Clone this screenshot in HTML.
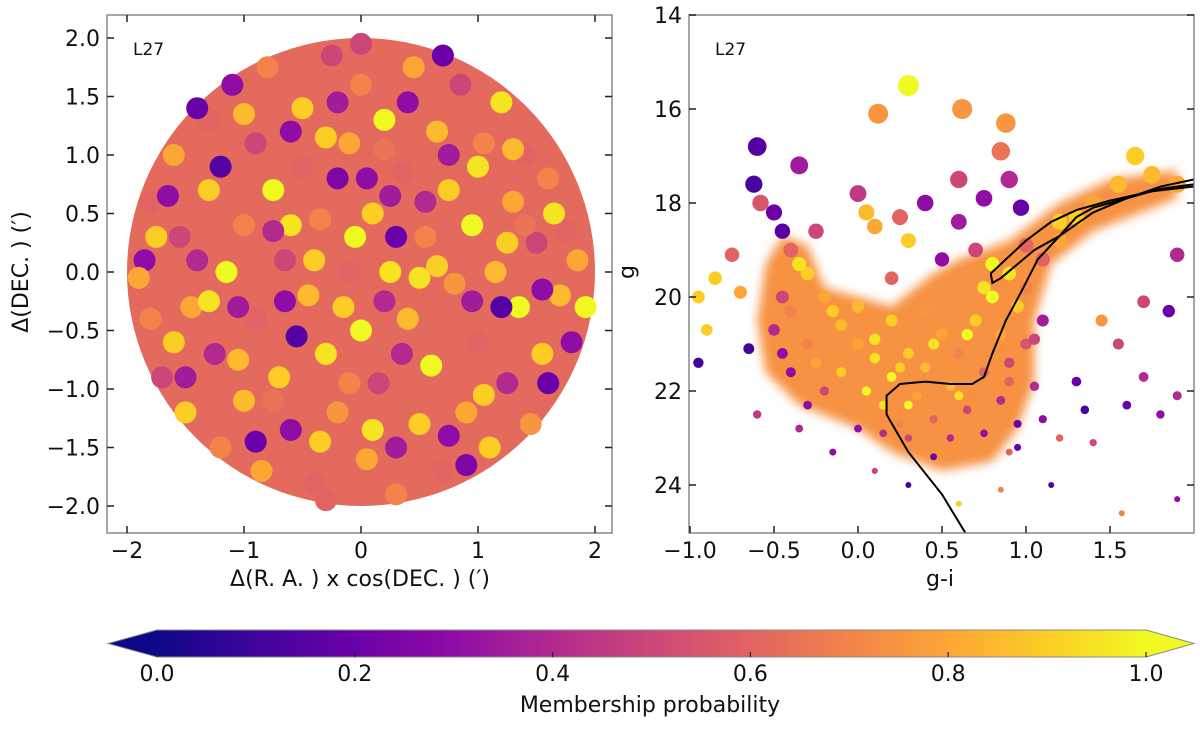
<!DOCTYPE html>
<html><head><meta charset="utf-8"><style>
body{margin:0;background:#fff;}
svg text{font-family:"DejaVu Sans","Liberation Sans",sans-serif;fill:#111;}
</style></head><body>
<svg id="fig" width="1200" height="724" viewBox="0 0 1200 724" xmlns="http://www.w3.org/2000/svg">
<defs>
<linearGradient id="cmap" x1="0" x2="1" y1="0" y2="0">
<stop offset="0" stop-color="#0d0887"/><stop offset="0.1" stop-color="#41049d"/><stop offset="0.2" stop-color="#6a00a8"/><stop offset="0.3" stop-color="#8f0da4"/><stop offset="0.4" stop-color="#b12a90"/><stop offset="0.5" stop-color="#cc4778"/><stop offset="0.6" stop-color="#e16462"/><stop offset="0.7" stop-color="#f2844b"/><stop offset="0.8" stop-color="#fca636"/><stop offset="0.9" stop-color="#fcce25"/><stop offset="1" stop-color="#f0f921"/>
</linearGradient>
<filter id="blur"><feGaussianBlur stdDeviation="5"/></filter>
<clipPath id="clipR"><rect x="689" y="15" width="505" height="518"/></clipPath>
</defs>
<g id="left"></g>
<g id="right"></g>
<g id="cbar"></g>
</svg>
<script>
// ---------- data ----------
const leftPts = [
[-1.8,0.6,0.6],[-1.85,0.1,0.3],[-1.8,-0.4,0.7],[-1.7,-0.9,0.5],[-1.6,1.0,0.8],[-1.5,-1.2,0.9],[-1.55,0.3,0.5],[-1.45,-0.3,0.8],
[-1.3,1.3,0.6],[-1.3,0.7,0.9],[-1.25,-0.7,0.4],[-1.2,-1.5,0.7],[-1.15,0.0,1.0],[-1.1,1.6,0.3],[-1.0,0.4,0.7],[-1.0,-1.1,0.85],
[-0.9,1.1,0.5],[-0.9,-0.4,0.6],[-0.85,-1.7,0.8],[-0.8,1.75,0.7],[-0.75,0.7,1.0],[-0.7,-0.9,0.9],[-0.65,0.1,0.5],[-0.6,-1.35,0.3],
[-0.5,1.4,0.9],[-0.5,0.9,0.6],[-0.45,-0.2,0.85],[-0.4,-1.8,0.6],[-0.35,0.45,0.7],[-0.3,-0.7,0.95],[-0.25,1.85,0.5],[-0.2,-1.2,0.75],
[-0.1,1.1,0.8],[-0.1,0.0,0.6],[0.0,-0.5,1.0],[0.0,1.6,0.7],[0.05,-1.6,0.8],[0.1,0.5,0.9],[0.15,-0.95,0.5],[0.2,1.3,1.0],
[0.25,0.0,0.95],[0.3,-1.9,0.7],[0.35,0.85,0.6],[0.4,-0.4,0.85],[0.45,1.75,0.8],[0.5,-1.3,0.9],[0.55,0.3,0.7],[0.6,-0.8,1.0],
[0.65,1.2,0.85],[0.7,-1.7,0.6],[0.75,0.7,0.9],[0.8,-0.1,0.75],[0.85,1.6,0.5],[0.9,-1.2,0.8],[0.95,0.4,1.0],[1.0,-0.6,0.6],
[1.05,1.1,0.7],[1.1,-1.5,0.9],[1.15,0.0,0.85],[1.2,1.45,0.95],[1.25,-0.95,0.4],[1.3,0.6,0.8],[1.35,-0.3,1.0],[1.4,1.0,0.6],
[1.45,-1.3,0.75],[1.5,0.25,0.5],[1.55,-0.7,0.9],[1.6,0.8,0.7],[1.7,-0.2,0.85],[1.75,0.35,0.6],[1.8,-0.6,0.3],[1.85,0.1,0.8],
[1.92,-0.3,1.0],[-1.9,-0.05,0.8],[-1.4,1.4,0.2],[-0.55,-0.55,0.15],[0.3,0.3,0.2],[1.2,-0.3,0.15],[-0.2,0.8,0.25],[0.7,1.85,0.2],
[-1.2,0.9,0.15],[0.9,-1.65,0.25],[1.6,-0.95,0.2],[-0.9,-1.45,0.2],[0.1,-1.35,0.95],[-0.6,0.4,0.95],[0.5,-0.05,0.95],[1.0,0.9,0.95],
[-1.3,-0.25,0.95],[0.2,1.05,0.65],[-0.1,-0.95,0.7],[-0.75,-1.1,0.65],[1.4,0.4,0.65],[-1.6,-0.6,0.9],[0.0,1.95,0.5],[-0.3,-1.95,0.6],
[-1.65,0.65,0.3],[-1.4,0.1,0.4],[-1.05,-0.3,0.35],[-0.75,0.35,0.4],[-0.4,0.1,0.9],[-0.05,0.3,1.0],[0.35,-0.7,0.4],[0.65,0.05,0.9],
[0.95,-0.25,0.35],[1.25,0.25,0.9],[1.55,-0.15,0.3],[-1.5,-0.9,0.35],[-1.05,-0.75,0.85],[-0.35,-1.45,0.9],[0.3,-1.5,0.35],[0.75,-1.4,0.3],
[1.05,-1.05,0.9],[-1.0,1.35,0.85],[-0.6,1.2,0.3],[-0.2,1.45,0.35],[0.4,1.45,0.3],[0.75,1.0,0.35],[1.3,1.05,0.85],[-0.3,1.15,0.9],
[0.25,0.65,0.35],[-0.65,-0.25,0.3],[-0.15,-0.3,0.9],[0.55,0.6,0.4],[1.65,0.5,0.95],[-1.75,0.3,0.9],[0.05,0.8,0.3],[0.2,-0.25,0.4]
];
const cmdPts = [
[0.3,15.5,1.0],[0.12,16.1,0.75],[0.62,16.0,0.75],[0.88,16.3,0.75],[-0.6,16.8,0.15],[-0.35,17.2,0.35],[0.85,16.9,0.65],[1.65,17.0,0.9],
[-0.62,17.6,0.12],[-0.58,18.0,0.55],[0.0,17.8,0.45],[0.05,18.2,0.85],[0.1,18.5,0.8],[0.25,18.3,0.6],[0.4,18.0,0.3],[0.6,17.5,0.5],
[0.75,17.9,0.3],[0.9,17.5,0.4],[0.97,18.1,0.2],[0.6,18.4,0.35],[0.3,18.8,0.9],[-0.5,18.2,0.2],[-0.75,19.1,0.6],[-0.85,19.6,0.9],
[-0.7,19.9,0.8],[-0.95,20.0,0.9],[-0.9,20.7,0.9],[-0.95,21.4,0.1],[-0.65,21.1,0.1],[1.9,19.1,0.4],[1.85,20.3,0.2],[1.7,20.1,0.5],
[1.45,20.5,0.75],[1.55,21.0,0.5],[1.3,21.8,0.2],[1.7,21.7,0.4],[1.9,22.1,0.4],[1.1,22.6,0.3],[1.35,22.4,0.1],[1.6,22.3,0.2],
[1.8,22.5,0.3],[0.95,23.2,0.2],[1.2,23.0,0.6],[1.4,23.1,0.5],[1.57,24.6,0.7],[1.9,24.3,0.3],[1.15,24.0,0.15],[0.85,24.1,0.7],
[0.6,24.4,0.9],[0.3,24.0,0.1],[-0.15,23.3,0.3],[-0.35,22.8,0.4],[-0.6,22.5,0.45],[0.1,23.7,0.5],
[-0.4,19.0,0.6],[-0.3,19.5,0.9],[-0.2,20.0,0.8],[-0.4,20.3,0.7],[-0.1,20.6,0.85],[0.0,21.0,0.8],[-0.3,21.0,0.7],[-0.4,21.6,0.3],
[0.1,21.3,0.95],[0.2,21.7,1.0],[0.3,21.2,0.9],[0.4,21.5,0.85],[0.5,20.8,0.8],[0.6,21.2,0.7],[0.7,20.5,0.9],[0.8,20.0,1.0],
[0.9,19.5,0.95],[0.85,20.8,0.8],[1.0,19.8,0.7],[1.1,19.2,0.6],[1.2,18.8,0.8],[1.3,18.3,0.9],[1.4,18.0,0.8],[1.55,17.6,0.85],
[1.75,17.4,0.85],[1.9,17.6,0.8],[1.2,18.4,0.9],[1.0,18.9,0.6],[0.8,19.3,1.0],[0.7,19.0,0.5],[0.5,19.2,0.3],[0.2,19.6,0.6],
[0.0,20.2,0.85],[0.2,20.5,0.9],[0.4,20.3,0.75],[-0.1,21.6,0.9],[0.05,22.0,1.0],[0.15,22.3,0.95],[0.35,22.1,0.8],[0.55,21.9,0.85],
[0.75,21.6,0.6],[0.9,21.4,0.5],[1.0,21.0,0.55],[-0.2,22.0,0.5],[-0.3,22.3,0.3],[0.25,22.7,0.7],[0.45,22.6,0.6],[0.65,22.4,0.5],
[0.85,22.2,0.4],[0.3,23.0,0.5],[0.55,23.0,0.4],[0.75,22.9,0.3],[0.9,23.3,0.6],[0.45,23.4,0.2],[0.0,22.8,0.3],[-0.45,20.0,0.5],
[-0.25,18.6,0.5],[-0.45,18.6,0.15],[0.95,22.7,0.2],[1.05,21.9,0.4],[1.1,20.5,0.35],
[-0.35,19.3,0.95],[-0.15,20.3,0.9],[0.1,20.9,0.95],[0.25,21.5,0.9],[0.45,21.0,0.95],[0.65,20.8,1.0],[0.75,19.8,0.95],[0.95,20.2,0.9],
[0.6,22.1,0.95],[0.3,22.3,1.0],[-0.25,21.4,0.8],[-0.45,21.2,0.3],[-0.5,20.7,0.4],[1.05,20.9,0.5],[0.9,21.8,0.6],[0.15,22.9,0.4]
];
const iso1 = [[0.67,25.2],[0.5,24.2],[0.3,23.3],[0.17,22.5],[0.17,22.1],[0.25,21.85],[0.4,21.8],[0.55,21.85],[0.68,21.85],[0.75,21.7],[0.8,21.2],[0.88,20.5],[0.97,19.9],[1.07,19.2],[1.2,18.7],[1.4,18.2],[1.6,17.9],[1.8,17.7],[2.0,17.6]];
const iso2 = [[0.79,19.5],[0.8,19.7],[0.85,19.6],[1.05,19.0],[1.2,18.7],[1.3,18.3],[1.4,18.1],[1.6,17.9],[1.8,17.65],[2.0,17.5]];
const iso3 = [[0.79,19.5],[1.0,18.8],[1.15,18.4],[1.3,18.15],[1.5,17.95],[1.75,17.75],[2.0,17.65]];
const xTicksL = [-2,-1,0,1,2];
const yTicksL = [-2.0,-1.5,-1.0,-0.5,0.0,0.5,1.0,1.5,2.0];
const xTicksR = [-1.0,-0.5,0.0,0.5,1.0,1.5];
const yTicksR = [14,16,18,20,22,24];
const cbTicks = [0.0,0.2,0.4,0.6,0.8,1.0];

// ---------- helpers ----------
const NS="http://www.w3.org/2000/svg";
function mk(tag,attrs,parent){const e=document.createElementNS(NS,tag);for(const k in attrs)e.setAttribute(k,attrs[k]);parent.appendChild(e);return e;}
const stops=[[13,8,135],[65,4,157],[106,0,168],[143,13,164],[177,42,144],[204,71,120],[225,100,98],[242,132,75],[252,166,54],[252,206,37],[240,249,33]];
function plasma(p){p=Math.max(0,Math.min(1,p));const f=p*10,i=Math.min(9,Math.floor(f)),t=f-i;const a=stops[i],b=stops[i+1];return `rgb(${Math.round(a[0]+(b[0]-a[0])*t)},${Math.round(a[1]+(b[1]-a[1])*t)},${Math.round(a[2]+(b[2]-a[2])*t)})`;}
const L=document.getElementById('left'),R=document.getElementById('right'),C=document.getElementById('cbar');

// ---------- left panel ----------
const lx=v=>361+117*v, ly=v=>272-117*v;
let e=mk('circle',{cx:lx(0),cy:ly(0),r:117*2.0,fill:plasma(0.62)},L);


leftPts.forEach(d=>{const c=mk('circle',{cx:lx(d[0]),cy:ly(d[1]),r:11,fill:plasma(d[2])},L);

});
mk('rect',{x:107,y:15,width:505,height:518,fill:'none',stroke:'#888','stroke-width':1.5},L);
xTicksL.forEach(t=>{mk('line',{x1:lx(t),x2:lx(t),y1:533,y2:526,stroke:'#222','stroke-width':1.5},L);mk('line',{x1:lx(t),x2:lx(t),y1:15,y2:22,stroke:'#222','stroke-width':1.5},L);
const tx=mk('text',{x:lx(t),y:558,'font-size':22,'text-anchor':'middle'},L);tx.textContent=t<0?'−'+Math.abs(t):String(t);

});
yTicksL.forEach(t=>{mk('line',{x1:107,x2:114,y1:ly(t),y2:ly(t),stroke:'#222','stroke-width':1.5},L);mk('line',{x1:612,x2:605,y1:ly(t),y2:ly(t),stroke:'#222','stroke-width':1.5},L);
const tx=mk('text',{x:100,y:ly(t)+8,'font-size':22,'text-anchor':'end'},L);tx.textContent=(t<0?'−':'')+Math.abs(t).toFixed(1);

});
let t1=mk('text',{x:133,y:55,'font-size':17},L);t1.textContent='L27';


let xt=mk('text',{x:360,y:586,'font-size':22,'text-anchor':'middle'},L);xt.textContent='Δ(R. A. ) x cos(DEC. ) (′)';


let yt=mk('text',{x:0,y:0,'font-size':22,'text-anchor':'middle',transform:'translate(28,272) rotate(-90)'},L);yt.textContent='Δ(DEC. ) (′)';



// ---------- right panel ----------
const rx=v=>858+168*v, ry=v=>15+47*(v-14);
const gR=mk('g',{'clip-path':'url(#clipR)'},R);
const blob=[[-0.45,18.7],[-0.3,18.9],[-0.2,19.8],[0.2,20.2],[0.45,19.5],[0.6,19.2],[0.9,18.8],[1.2,18.0],[1.5,17.5],[1.9,17.3],[1.9,17.9],[1.4,18.6],[1.15,19.3],[1.05,20.5],[1.05,21.8],[0.95,22.8],[0.8,23.5],[0.5,23.7],[0.2,23.3],[0.0,22.8],[-0.35,22.3],[-0.55,21.6],[-0.6,20.5],[-0.55,19.3]];
e=mk('polygon',{points:blob.map(d=>rx(d[0])+','+ry(d[1])).join(' '),fill:plasma(0.74),filter:'url(#blur)'},gR);


cmdPts.forEach(d=>{const r=Math.max(3,10.5-(d[1]-15.5)*0.9);const c=mk('circle',{cx:rx(d[0]),cy:ry(d[1]),r:r,fill:plasma(d[2])},gR);

});
[iso1,iso2,iso3].forEach(a=>{const p=mk('polyline',{points:a.map(d=>rx(d[0])+','+ry(d[1])).join(' '),fill:'none',stroke:'#000','stroke-width':2},gR);

});
mk('rect',{x:689,y:15,width:505,height:518,fill:'none',stroke:'#888','stroke-width':1.5},R);
xTicksR.forEach(t=>{mk('line',{x1:rx(t),x2:rx(t),y1:533,y2:526,stroke:'#222','stroke-width':1.5},R);
const tx=mk('text',{x:rx(t),y:558,'font-size':22,'text-anchor':'middle'},R);tx.textContent=(t<0?'−':'')+Math.abs(t).toFixed(1);

});
yTicksR.forEach(t=>{mk('line',{x1:689,x2:696,y1:ry(t),y2:ry(t),stroke:'#222','stroke-width':1.5},R);mk('line',{x1:1194,x2:1187,y1:ry(t),y2:ry(t),stroke:'#222','stroke-width':1.5},R);
const tx=mk('text',{x:682,y:ry(t)+8,'font-size':22,'text-anchor':'end'},R);tx.textContent=String(t);

});
t1=mk('text',{x:715,y:55,'font-size':17},R);t1.textContent='L27';


xt=mk('text',{x:940,y:586,'font-size':22,'text-anchor':'middle'},R);xt.textContent='g-i';


yt=mk('text',{x:0,y:0,'font-size':22,'text-anchor':'middle',transform:'translate(634,272) rotate(-90)'},R);yt.textContent='g';



// ---------- colorbar ----------
const cx=v=>157+989*v;
e=mk('rect',{x:157,y:630,width:989,height:27,fill:'url(#cmap)'},C);


e=mk('polygon',{points:'157,630 108,643.5 157,657',fill:plasma(0)},C);


e=mk('polygon',{points:'1146,630 1194,643.5 1146,657',fill:plasma(1)},C);


mk('polygon',{points:'157,630 1146,630 1194,643.5 1146,657 157,657 108,643.5',fill:'none',stroke:'#888','stroke-width':1},C);
cbTicks.forEach(t=>{mk('line',{x1:cx(t),x2:cx(t),y1:657,y2:652,stroke:'#222','stroke-width':1.2},C);
const tx=mk('text',{x:cx(t),y:681,'font-size':22,'text-anchor':'middle'},C);tx.textContent=t.toFixed(1);

});
xt=mk('text',{x:650,y:712,'font-size':22,'text-anchor':'middle'},C);xt.textContent='Membership probability';


</script>
</body></html>
